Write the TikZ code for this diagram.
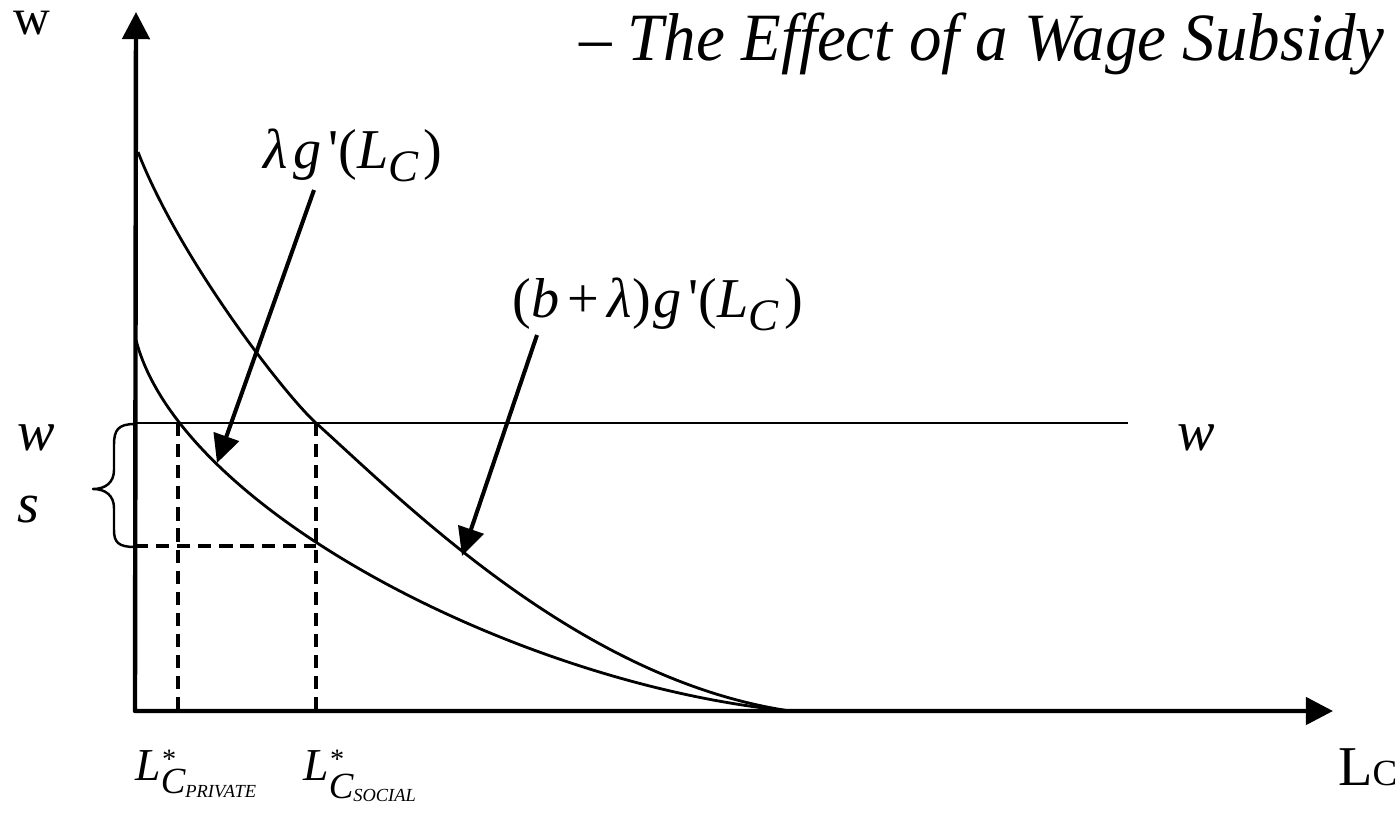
\documentclass[tikz,border=0pt]{standalone}
\usepackage{fontspec}
\setmainfont{Liberation Serif}
\newfontfamily\titlefont[FakeStretch=0.96]{Liberation Serif}
\usetikzlibrary{arrows.meta}
\newcommand{\lsub}[1]{\raisebox{-0.24em}{\scalebox{0.8}{\itshape #1}}}
\newcommand{\prm}{\hspace{0.12em}\textquotesingle}
\tikzset{
  axis/.style={line width=2.5pt, {Triangle[length=15.5pt,width=15.5pt]}-{Triangle[length=15.5pt,width=15.5pt]}},
  curve/.style={line width=1.6pt},
  guide/.style={line width=1.8pt, dash pattern=on 7.5pt off 4.5pt},
  pointer/.style={line width=2.3pt, -{Triangle[length=16pt,width=15pt]}},
  brace line/.style={line width=1.4pt},
  lbl/.style={inner sep=0pt},
}
\begin{document}
\begin{tikzpicture}[x=0.02cm, y=-0.02cm, line join=round]
\useasboundingbox (0,0) rectangle (1397,835);
% axes
\coordinate (ytop) at (136,12);
\coordinate (O) at (135,711);
\coordinate (xend) at (1333,711);
\draw[axis] (ytop) -- (O) -- (xend);
\node[lbl, anchor=base west, text height=1.2ex, font=\fontsize{29}{32}\selectfont] (wlab) at (13,34) {w};
\node[lbl, anchor=base west, font=\fontsize{32}{36}\selectfont] (lclab) at (1338,785) {L{\fontsize{21}{21}\selectfont C}};
% title
\node[lbl, anchor=base east, font=\titlefont\fontsize{38.5}{42}\selectfont\itshape] (title) at (1385,60) {– The Effect of a Wage Subsidy};
% wage line
\coordinate (wl) at (135,423);
\coordinate (wr) at (1128,423);
\draw[curve] (wl) -- (wr);
\node[lbl, anchor=base west, font=\fontsize{32}{36}\selectfont\itshape] (wleft) at (17,450) {w};
\node[lbl, anchor=base west, font=\fontsize{32}{36}\selectfont\itshape] (wright) at (1177,450) {w};
\node[lbl, anchor=base west, font=\fontsize{32}{36}\selectfont\itshape] (slab) at (17,522) {s};
% curves
\draw[curve] (136,340) .. controls (180,510) and (520,685) .. (790,711);
\draw[curve] (138,152) .. controls (180,260) and (285,395) .. (316,423)
  .. controls (406,504) and (580,680) .. (790,711);
% subsidy brace
\draw[brace line] (135,424) .. controls (118,424) and (114,430) .. (114,445) -- (114,470)
  .. controls (114,482) and (106,489) .. (93,489) .. controls (106,489) and (114,496) .. (114,508)
  -- (114,530) .. controls (114,542) and (118,547) .. (135,547);
% dashed guides
\coordinate (ptop) at (178,423);
\coordinate (pbot) at (178,711);
\coordinate (stop) at (316,423);
\coordinate (sbot) at (316,711);
\coordinate (sw) at (135,546);
\coordinate (scut) at (316,546);
\draw[guide] (ptop) -- (pbot);
\draw[guide] (stop) -- (sbot);
\draw[guide] (sw) -- (scut);
\node[lbl, anchor=base west, font=\fontsize{26}{30}\selectfont\itshape] (lpriv) at (135,780)
  {L\rlap{\raisebox{0.25em}{\fontsize{16}{16}\selectfont *}}\raisebox{-0.3em}{\fontsize{21}{21}\selectfont C\raisebox{-0.1em}{\fontsize{10.5}{10.5}\selectfont PRIVATE}}};
\node[lbl, anchor=base west, font=\fontsize{26}{30}\selectfont\itshape] (lsoc) at (303,780)
  {L\rlap{\raisebox{0.25em}{\fontsize{16}{16}\selectfont *}}\raisebox{-0.4em}{\fontsize{21}{21}\selectfont C\raisebox{-0.1em}{\fontsize{10.5}{10.5}\selectfont SOCIAL}}};
% curve labels
\node[lbl, anchor=base west, font=\fontsize{32}{36}\selectfont] (lamlbl) at (263,168)
  {\textit{λ\hspace{0.1em}g}\prm(\textit{L}\lsub{C}\hspace{0.1em})};
\node[lbl, anchor=base west, font=\fontsize{32}{36}\selectfont] (blamlbl) at (512,317)
  {(\textit{b}\hspace{0.15em}+\hspace{0.15em}\textit{λ})\hspace{0.05em}\textit{g}\prm(\textit{L}\lsub{C}\hspace{0.1em})};
\coordinate (lamtail) at (314,190);
\coordinate (lamtip) at (217,463);
\coordinate (blamtail) at (537,335);
\coordinate (blamtip) at (462,556);
\draw[pointer] (lamtail) -- (lamtip);
\draw[pointer] (blamtail) -- (blamtip);
\end{tikzpicture}
\end{document}
